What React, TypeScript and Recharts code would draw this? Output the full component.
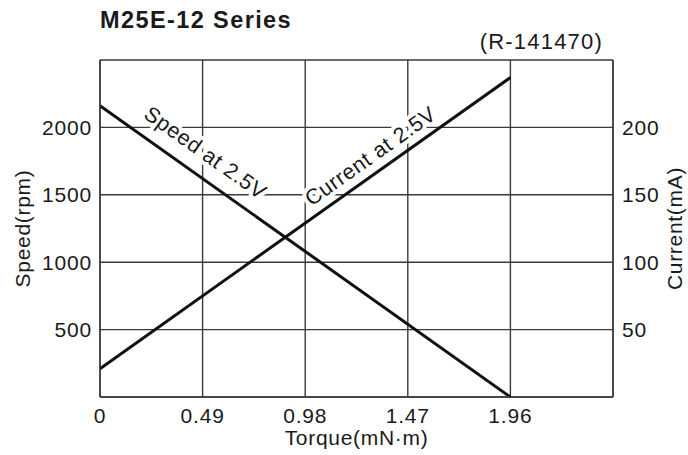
import React from 'react'
import {
  ComposedChart,
  Line,
  XAxis,
  YAxis,
  CartesianGrid,
  ReferenceDot,
} from 'recharts'

// torque (mN·m) at the two ends of each straight characteristic
const torque = [0, 1.96]
const speedRpm = [2160, 0]
const currentMa = [21, 237]

const xTicks = [0, 0.49, 0.98, 1.47, 1.96, 2.45]
const speedTicks = [0, 500, 1000, 1500, 2000, 2500]
const currentTicks = [0, 50, 100, 150, 200, 250]

const speedData = torque.map((t, i) => ({ torque: t, speed: speedRpm[i] }))
const currentData = torque.map((t, i) => ({ torque: t, current: currentMa[i] }))

const FONT = '"Liberation Sans", Arial, Helvetica, sans-serif'
const INK = '#1a1a1a'
const GRID = '#3a3a3a'

const tickStyle = { fontSize: 21, fill: INK, fontFamily: FONT, letterSpacing: 0.8 }
const labelStyle = { fontSize: 21, fill: INK, fontFamily: FONT, letterSpacing: 0.7 }

// hide the labels on the frame edges
const hideEnds = (lo: number, hi: number) => (v: number) =>
  v === lo || v === hi ? '' : String(v)

function slantLabel(text: string, angle: number) {
  return (props: any) => {
    const vb = props.viewBox || {}
    const x = vb.x + (vb.width || 0) / 2
    const y = vb.y + (vb.height || 0) / 2
    return (
      <text
        x={x}
        y={y}
        dy="0.36em"
        textAnchor="middle"
        transform={`rotate(${angle}, ${x}, ${y})`}
        fontFamily={FONT}
        fontSize={21.5}
        letterSpacing={0.6}
        fill={INK}
        stroke="#fff"
        strokeWidth={8}
        strokeLinejoin="round"
        paintOrder="stroke"
      >
        {text}
      </text>
    )
  }
}

export default function App() {
  return (
    <div style={{ position: 'absolute', left: 0, top: 0, width: 688, height: 455, background: '#fff' }}>
      <div
        style={{
          position: 'absolute',
          left: 100,
          top: 5,
          fontFamily: FONT,
          fontWeight: 'bold',
          fontSize: 23.5,
          letterSpacing: 1.4,
          color: INK,
          lineHeight: '30px',
        }}
      >
        M25E-12 Series
      </div>
      <div
        style={{
          position: 'absolute',
          right: 85,
          top: 28,
          fontFamily: FONT,
          fontSize: 22,
          letterSpacing: 1.2,
          color: INK,
          lineHeight: '28px',
        }}
      >
        (R-141470)
      </div>
      <ComposedChart
        width={688}
        height={455}
        margin={{ top: 60, right: 0, bottom: 0, left: 0 }}
        style={{ position: 'absolute', left: 0, top: 0 }}
      >
        <CartesianGrid yAxisId="left" stroke={GRID} strokeWidth={1.4} />
        <XAxis
          dataKey="torque"
          type="number"
          domain={[0, 2.45]}
          ticks={xTicks}
          tickFormatter={(v: number) => (v === 2.45 ? '' : String(v))}
          tickLine={false}
          tickSize={0}
          tickMargin={11}
          axisLine={{ stroke: GRID, strokeWidth: 1.4 }}
          height={58}
          tick={tickStyle}
          allowDuplicatedCategory={false}
          label={{
            value: 'Torque(mN·m)',
            position: 'insideBottom',
            offset: 10,
            style: labelStyle,
          }}
        />
        <YAxis
          yAxisId="left"
          orientation="left"
          domain={[0, 2500]}
          ticks={speedTicks}
          tickFormatter={hideEnds(0, 2500)}
          tickLine={false}
          tickSize={0}
          tickMargin={8}
          axisLine={{ stroke: GRID, strokeWidth: 1.4 }}
          width={100}
          tick={tickStyle}
          label={{
            value: 'Speed(rpm)',
            angle: -90,
            position: 'insideLeft',
            offset: 23,
            style: { ...labelStyle, textAnchor: 'middle' },
          }}
        />
        <YAxis
          yAxisId="right"
          orientation="right"
          domain={[0, 250]}
          ticks={currentTicks}
          tickFormatter={hideEnds(0, 250)}
          tickLine={false}
          tickSize={0}
          tickMargin={9}
          axisLine={{ stroke: GRID, strokeWidth: 1.4 }}
          width={75}
          tick={{ ...tickStyle, textAnchor: 'start' }}
          label={{
            value: 'Current(mA)',
            angle: -90,
            position: 'insideRight',
            offset: 13,
            style: { ...labelStyle, textAnchor: 'middle' },
          }}
        />
        <ReferenceDot
          yAxisId="left"
          x={0.505}
          y={1815}
          r={0}
          fill="none"
          stroke="none"
          label={{ content: slantLabel('Speed at 2.5V', 35.3) }}
        />
        <ReferenceDot
          yAxisId="left"
          x={1.29}
          y={1790}
          r={0}
          fill="none"
          stroke="none"
          label={{ content: slantLabel('Current at 2.5V', -35.3) }}
        />
        <Line
          yAxisId="left"
          data={speedData}
          dataKey="speed"
          stroke="#111"
          strokeWidth={3}
          dot={false}
          activeDot={false}
          isAnimationActive={false}
        />
        <Line
          yAxisId="right"
          data={currentData}
          dataKey="current"
          stroke="#111"
          strokeWidth={3}
          dot={false}
          activeDot={false}
          isAnimationActive={false}
        />
      </ComposedChart>
    </div>
  )
}
